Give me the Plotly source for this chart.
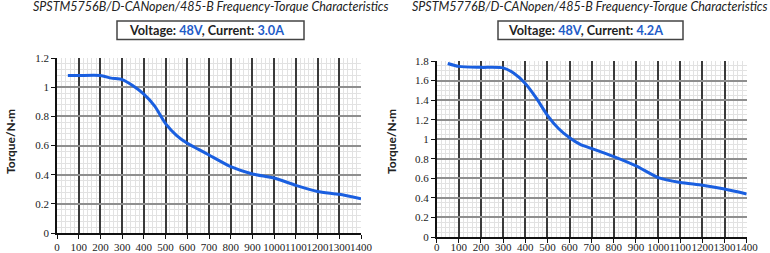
import plotly.graph_objects as go

# ---------------- data ----------------
speed_left = [50, 100, 200, 250, 300, 350, 400, 450, 500, 550, 600, 650, 700, 800, 900, 1000, 1100, 1200, 1300, 1400]
torque_left = [1.08, 1.08, 1.08, 1.062, 1.052, 1.01, 0.952, 0.87, 0.75, 0.67, 0.615, 0.575, 0.535, 0.455, 0.405, 0.377, 0.327, 0.285, 0.265, 0.235]

speed_right = [50, 100, 200, 300, 350, 400, 450, 500, 550, 600, 650, 700, 800, 900, 1000, 1100, 1200, 1300, 1400]
torque_right = [1.775, 1.745, 1.735, 1.73, 1.672, 1.57, 1.42, 1.245, 1.11, 1.015, 0.945, 0.905, 0.823, 0.728, 0.608, 0.558, 0.53, 0.49, 0.44]

x_ticks = [0, 100, 200, 300, 400, 500, 600, 700, 800, 900, 1000, 1100, 1200, 1300, 1400]
y_ticks_left = [0, 0.2, 0.4, 0.6, 0.8, 1.0, 1.2]
y_ticks_right = [0, 0.2, 0.4, 0.6, 0.8, 1.0, 1.2, 1.4, 1.6, 1.8]

title_left = "SPSTM5756B/D-CANopen/485-B Frequency-Torque Characteristics"
title_right = "SPSTM5776B/D-CANopen/485-B Frequency-Torque Characteristics"
voltage_left, current_left = "48V", "3.0A"
voltage_right, current_right = "48V", "4.2A"
y_title = "Torque/N·m"

# ---------------- style ----------------
W, H = 770, 253
LINE_BLUE = "#1a5fe0"
TEXT_BLUE = "#1f5cc8"
TICK_FONT = dict(family="Liberation Serif", size=11, color="#222")
UI_FONT = "Lato"


def px(x):
    return x / W


def py(y):
    return 1 - y / H


fig = go.Figure()
fig.add_trace(go.Scatter(x=speed_left, y=torque_left, mode="lines",
                         line=dict(color=LINE_BLUE, width=3, shape="spline", smoothing=0.6),
                         xaxis="x", yaxis="y", showlegend=False, hoverinfo="skip"))
fig.add_trace(go.Scatter(x=speed_right, y=torque_right, mode="lines",
                         line=dict(color=LINE_BLUE, width=3, shape="spline", smoothing=0.6),
                         xaxis="x2", yaxis="y2", showlegend=False, hoverinfo="skip"))


def xaxis(domain, anchor, standoff):
    return dict(domain=domain, anchor=anchor, range=[0, 1400], tickvals=x_ticks,
                ticktext=[str(v) for v in x_ticks], tickfont=TICK_FONT, tickangle=0,
                automargin=False, ticklabelstandoff=standoff,
                showgrid=True, gridcolor="#3a3a3a", gridwidth=1.5,
                showline=True, linecolor="#111", linewidth=1.5,
                ticks="outside", ticklen=4, tickcolor="#111", tickwidth=1.2,
                zeroline=False, fixedrange=True,
                minor=dict(dtick=20, tick0=0, showgrid=True, gridcolor="#e2e2e2", gridwidth=1, ticks=""))


def yaxis(domain, anchor, rng, ticks, minor):
    return dict(domain=domain, anchor=anchor, range=rng, tickvals=ticks,
                ticktext=[("%g" % v) for v in ticks], tickfont=TICK_FONT,
                automargin=False,
                showgrid=True, gridcolor="#8f8f8f", gridwidth=1.5,
                showline=True, linecolor="#111", linewidth=1.5,
                ticks="outside", ticklen=4, tickcolor="#111", tickwidth=1.2,
                zeroline=False, fixedrange=True,
                minor=dict(dtick=minor, tick0=0, showgrid=True, gridcolor="#e2e2e2", gridwidth=1, ticks=""))


annotations = []
shapes = []
for (title, volt, cur, tx, bx0, bx1, txc, ytx) in [
    (title_left, voltage_left, current_left, 211, 117, 304, 207, 10),
    (title_right, voltage_right, current_right, 589, 498, 683, 585, 391),
]:
    annotations.append(dict(x=px(tx), y=py(7), xref="paper", yref="paper", text="<i>%s</i>" % title,
                            showarrow=False, xanchor="center", yanchor="middle",
                            font=dict(family=UI_FONT, size=12.5, color="#222")))
    annotations.append(dict(x=px(txc), y=py(30), xref="paper", yref="paper",
                            text="<b>Voltage: <span style='color:%s'>%s</span>, Current: <span style='color:%s'>%s</span></b>"
                                 % (TEXT_BLUE, volt, TEXT_BLUE, cur),
                            showarrow=False, xanchor="center", yanchor="middle",
                            font=dict(family=UI_FONT, size=12.7, color="#222")))
    annotations.append(dict(x=px(ytx), y=py(142), xref="paper", yref="paper", text="<b>%s</b>" % y_title,
                            textangle=-90, showarrow=False, xanchor="center", yanchor="middle",
                            font=dict(family=UI_FONT, size=12, color="#222")))
    shapes.append(dict(type="rect", xref="paper", yref="paper", x0=px(bx0), x1=px(bx1), y0=py(39.5), y1=py(21),
                       line=dict(color="#444", width=1.5), fillcolor="rgba(0,0,0,0)"))

fig.update_layout(
    width=W, height=H, margin=dict(l=0, r=0, t=0, b=0),
    paper_bgcolor="white", plot_bgcolor="white",
    xaxis=xaxis([px(57), px(361)], "y", -1),
    yaxis=yaxis([py(233), py(58)], "x", [0, 1.2], y_ticks_left, 0.04),
    xaxis2=xaxis([px(436.7), px(746.7)], "y2", -5),
    yaxis2=yaxis([py(237), py(61)], "x2", [0, 1.8], y_ticks_right, 0.05),
    annotations=annotations, shapes=shapes,
)

fig.write_html("out.html")
